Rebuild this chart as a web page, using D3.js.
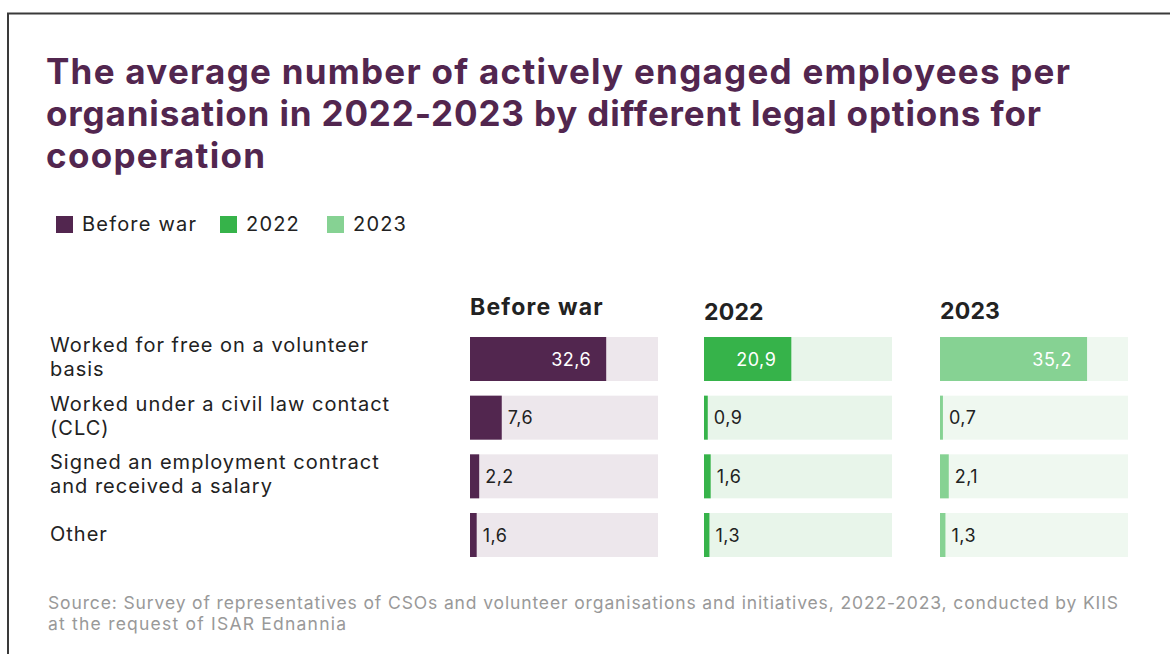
<!DOCTYPE html>
<html>
<head>
<meta charset="utf-8">
<script src="https://cdn.jsdelivr.net/npm/d3@7"></script>
<style>
  html, body { margin: 0; padding: 0; background: #fff; }
  svg { display: block; }
</style>
</head>
<body>
<svg id="chart" width="1170" height="654"></svg>
<script>
// Data
const categories = [
  "Worked for free on a volunteer basis",
  "Worked under a civil law contact (CLC)",
  "Signed an employment contract and received a salary",
  "Other"
];
const categoryLines = [
  ["Worked for free on a volunteer", "basis"],
  ["Worked under a civil law contact", "(CLC)"],
  ["Signed an employment contract", "and received a salary"],
  ["Other"]
];
const seriesNames = ["Before war", "2022", "2023"];
const beforeWar = [32.6, 7.6, 2.2, 1.6];
const y2022 = [20.9, 0.9, 1.6, 1.3];
const y2023 = [35.2, 0.7, 2.1, 1.3];
const seriesValues = [beforeWar, y2022, y2023];

const titleLines = [
  "The average number of actively engaged employees per",
  "organisation in 2022-2023 by different legal options for",
  "cooperation"
];
const sourceLines = [
  "Source: Survey of representatives of CSOs and volunteer organisations and initiatives, 2022-2023, conducted by KIIS",
  "at the request of ISAR Ednannia"
];

// Styling
const barColors = ["#52264f", "#36b34a", "#86d293"];
const trackColors = ["#ede7ec", "#e8f5ea", "#eff8f0"];
const panelX = [470, 704, 940];
const headerY = [315, 320, 319];
const panelWidth = 188;
const fontMain = "Inter, 'Open Sans', 'Noto Sans', sans-serif";

// Spread a text line's letters so that it spans the given width
function spreadTo(node, width) {
  const natural = node.getComputedTextLength();
  const n = node.textContent.length;
  if (n > 1) d3.select(node).attr("letter-spacing", (width - natural) / (n - 1));
}

const svg = d3.select("#chart");

// Frame
svg.append("path")
  .attr("d", "M8,654 V13.5 H1170")
  .attr("fill", "none")
  .attr("stroke", "#3a3a3a")
  .attr("stroke-width", 2);

// Title
const titleWidths = [1024, 995, 219];
svg.append("g").selectAll("text")
  .data(titleLines)
  .join("text")
  .attr("font-family", fontMain)
  .attr("font-weight", 700)
  .attr("font-size", 35)
  .attr("fill", "#52264f")
  .attr("x", 46)
  .attr("y", (d, i) => 84 + i * 42)
  .text(d => d)
  .each(function (d, i) { spreadTo(this, titleWidths[i]); });

// Legend
const legendX = [56, 220, 327];
const legend = svg.append("g").selectAll("g")
  .data(seriesNames)
  .join("g")
  .attr("transform", (d, i) => `translate(${legendX[i]},216)`);
legend.append("rect")
  .attr("width", 17).attr("height", 17)
  .attr("fill", (d, i) => barColors[i]);
legend.append("text")
  .attr("x", 26).attr("y", 15)
  .attr("font-family", fontMain)
  .attr("font-size", 20)
  .attr("letter-spacing", 1.2)
  .attr("fill", "#222")
  .text(d => d);

// Scales
const y = d3.scaleBand()
  .domain(categories)
  .range([337, 557])
  .paddingInner(0.25)
  .paddingOuter(0);
const x = d3.scaleLinear()
  .domain([0, 45])
  .range([0, panelWidth]);

// Category labels
svg.append("g").selectAll("text")
  .data(categories)
  .join("text")
  .attr("font-family", fontMain)
  .attr("font-size", 20)
  .attr("letter-spacing", 1.0)
  .attr("fill", "#222")
  .each(function (d, i) {
    const lines = categoryLines[i];
    const cy = y(d) + y.bandwidth() / 2;
    const top = lines.length === 1 ? cy + 6 : cy - 7;
    d3.select(this).selectAll("tspan")
      .data(lines)
      .join("tspan")
      .attr("x", 50)
      .attr("y", (l, j) => top + j * 24)
      .text(l => l);
  });

// Panels
seriesNames.forEach((name, s) => {
  const g = svg.append("g").attr("transform", `translate(${panelX[s]},0)`);

  g.append("text")
    .attr("x", 0).attr("y", headerY[s])
    .attr("font-family", fontMain)
    .attr("font-weight", 700)
    .attr("font-size", 23)
    .attr("letter-spacing", s === 0 ? 1.2 : 0.2)
    .attr("fill", "#222")
    .text(name);

  const vals = seriesValues[s];

  g.selectAll("rect.track")
    .data(categories)
    .join("rect")
    .attr("class", "track")
    .attr("x", 0)
    .attr("y", d => y(d))
    .attr("width", x(45))
    .attr("height", y.bandwidth())
    .attr("fill", trackColors[s]);

  g.selectAll("rect.bar")
    .data(categories)
    .join("rect")
    .attr("class", "bar")
    .attr("x", 0)
    .attr("y", d => y(d))
    .attr("width", (d, i) => x(vals[i]))
    .attr("height", y.bandwidth())
    .attr("fill", barColors[s]);

  g.selectAll("text.val")
    .data(categories)
    .join("text")
    .attr("class", "val")
    .attr("font-family", fontMain)
    .attr("font-size", 18)
    .attr("letter-spacing", 0.5)
    .attr("y", d => y(d) + y.bandwidth() / 2 + 6.5)
    .attr("x", (d, i) => vals[i] > 10 ? x(vals[i]) - 15 : x(vals[i]) + 6)
    .attr("text-anchor", (d, i) => vals[i] > 10 ? "end" : "start")
    .attr("fill", (d, i) => vals[i] > 10 ? "#fff" : "#222")
    .text((d, i) => d3.format(".1f")(vals[i]).replace(".", ","));
});

// Source note
const sourceWidths = [1070, 298];
svg.append("g").selectAll("text")
  .data(sourceLines)
  .join("text")
  .attr("font-family", fontMain)
  .attr("font-size", 17.5)
  .attr("fill", "#999")
  .attr("x", 48)
  .attr("y", (d, i) => 609 + i * 21)
  .text(d => d)
  .each(function (d, i) { spreadTo(this, sourceWidths[i]); });
</script>
</body>
</html>
